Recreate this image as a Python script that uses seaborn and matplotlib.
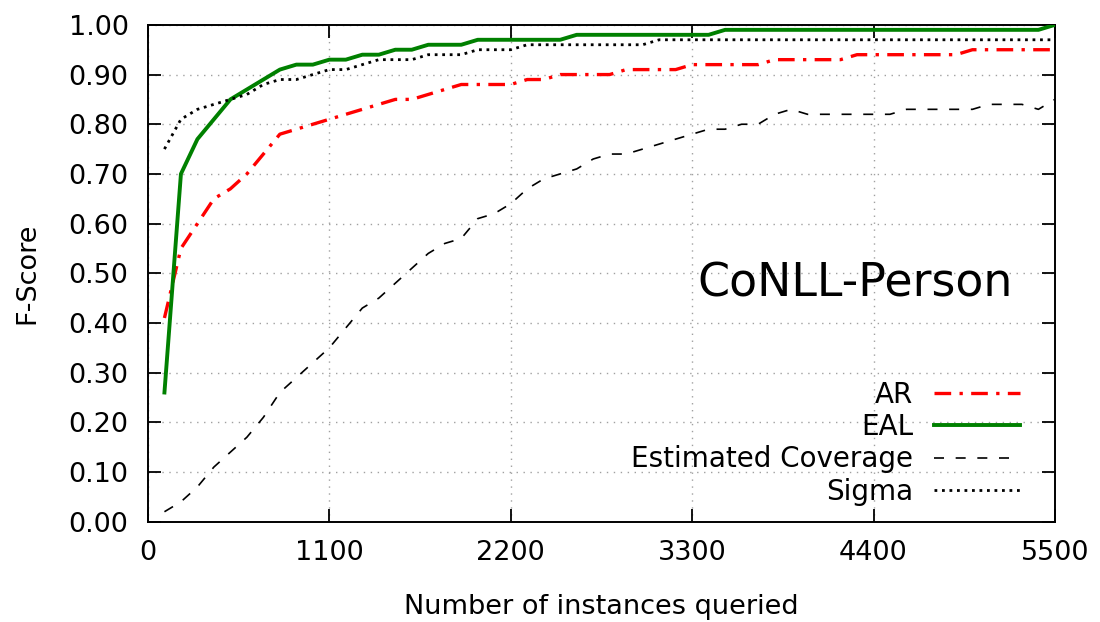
import numpy as np
import pandas as pd
import matplotlib
matplotlib.use("Agg")
import matplotlib.pyplot as plt
import seaborn as sns

# number of instances queried (every 100)
queried = list(range(100, 5600, 100))

ar = [0.41, 0.55, 0.60, 0.65, 0.67, 0.70, 0.74, 0.78, 0.79, 0.80,
      0.81, 0.82, 0.83, 0.84, 0.85, 0.85, 0.86, 0.87, 0.88, 0.88,
      0.88, 0.88, 0.89, 0.89, 0.90, 0.90, 0.90, 0.90, 0.91, 0.91,
      0.91, 0.91, 0.92, 0.92, 0.92, 0.92, 0.92, 0.93, 0.93, 0.93,
      0.93, 0.93, 0.94, 0.94, 0.94, 0.94, 0.94, 0.94, 0.94, 0.95,
      0.95, 0.95, 0.95, 0.95, 0.95]

eal = [0.26, 0.70, 0.77, 0.81, 0.85, 0.87, 0.89, 0.91, 0.92, 0.92,
       0.93, 0.93, 0.94, 0.94, 0.95, 0.95, 0.96, 0.96, 0.96, 0.97,
       0.97, 0.97, 0.97, 0.97, 0.97, 0.98, 0.98, 0.98, 0.98, 0.98,
       0.98, 0.98, 0.98, 0.98, 0.99, 0.99, 0.99, 0.99, 0.99, 0.99,
       0.99, 0.99, 0.99, 0.99, 0.99, 0.99, 0.99, 0.99, 0.99, 0.99,
       0.99, 0.99, 0.99, 0.99, 1.00]

coverage = [0.02, 0.04, 0.07, 0.11, 0.14, 0.17, 0.21, 0.26, 0.29, 0.32,
            0.35, 0.39, 0.43, 0.45, 0.48, 0.51, 0.54, 0.56, 0.57, 0.61,
            0.62, 0.64, 0.67, 0.69, 0.70, 0.71, 0.73, 0.74, 0.74, 0.75,
            0.76, 0.77, 0.78, 0.79, 0.79, 0.80, 0.80, 0.82, 0.83, 0.82,
            0.82, 0.82, 0.82, 0.82, 0.82, 0.83, 0.83, 0.83, 0.83, 0.83,
            0.84, 0.84, 0.84, 0.83, 0.85]

sigma = [0.75, 0.81, 0.83, 0.84, 0.85, 0.86, 0.88, 0.89, 0.89, 0.90,
         0.91, 0.91, 0.92, 0.93, 0.93, 0.93, 0.94, 0.94, 0.94, 0.95,
         0.95, 0.95, 0.96, 0.96, 0.96, 0.96, 0.96, 0.96, 0.96, 0.96,
         0.97, 0.97, 0.97, 0.97, 0.97, 0.97, 0.97, 0.97, 0.97, 0.97,
         0.97, 0.97, 0.97, 0.97, 0.97, 0.97, 0.97, 0.97, 0.97, 0.97,
         0.97, 0.97, 0.97, 0.97, 0.97]

methods = ["AR", "EAL", "Estimated Coverage", "Sigma"]
x_ticks = [0, 1100, 2200, 3300, 4400, 5500]
y_ticks = [0.0, 0.1, 0.2, 0.3, 0.4, 0.5, 0.6, 0.7, 0.8, 0.9, 1.0]

df = pd.concat([
    pd.DataFrame({"n": queried, "score": vals, "method": m})
    for m, vals in zip(methods, [ar, eal, coverage, sigma])
])

plt.rcParams["font.family"] = ["DejaVu Sans"]
plt.rcParams["font.size"] = 19.5

fig, ax = plt.subplots(figsize=(11, 6.22), dpi=100)
fig.subplots_adjust(left=0.1345, right=0.959, bottom=0.1613, top=0.96)

palette = {"AR": "#ff0000", "EAL": "#008000",
           "Estimated Coverage": "#000000", "Sigma": "#000000"}
dashes = {"AR": (5, 2.5, 1, 2.5), "EAL": "",
          "Estimated Coverage": (6, 7), "Sigma": (1, 1.7)}
sizes = {"AR": 2.4, "EAL": 2.8, "Estimated Coverage": 1.2, "Sigma": 2.0}

sns.lineplot(data=df, x="n", y="score", hue="method", style="method",
             size="method", hue_order=methods, style_order=methods,
             size_order=methods, palette=palette, dashes=dashes,
             sizes=sizes, errorbar=None, ax=ax, zorder=3)

ax.set_xlim(0, 5500)
ax.set_ylim(0, 1.0)
ax.set_xticks(x_ticks)
ax.set_yticks(y_ticks)
ax.set_yticklabels([f"{v:.2f}" for v in y_ticks])
ax.grid(True, color="#a0a0a0", linestyle=(0, (1, 4)), linewidth=1.0, zorder=0)
ax.tick_params(direction="in", length=9.5, width=1.3, top=True, right=True,
               labelsize=19.5)
ax.tick_params(axis="y", pad=14)
ax.tick_params(axis="x", pad=13)
for s in ax.spines.values():
    s.set_linewidth(1.4)

ax.set_xlabel("Number of instances queried", fontsize=19.5)
ax.set_ylabel("F-Score", fontsize=19.5)
ax.xaxis.set_label_coords(0.5, -0.145)
ax.yaxis.set_label_coords(-0.119, 0.5)

ax.text(0.954, 0.479, "CoNLL-Person", transform=ax.transAxes,
        ha="right", va="center", fontsize=33)

handles, labels = ax.get_legend_handles_labels()
leg = ax.legend(handles, labels, loc="center right",
                bbox_to_anchor=(0.962, 0.158), frameon=False,
                markerfirst=False, handlelength=3.1, handletextpad=0.75,
                labelspacing=0.16, fontsize=20, borderaxespad=0,
                borderpad=0)
for col in leg._legend_box._children[1]._children:
    col.align = "right"

fig.savefig("out.png", dpi=100)
